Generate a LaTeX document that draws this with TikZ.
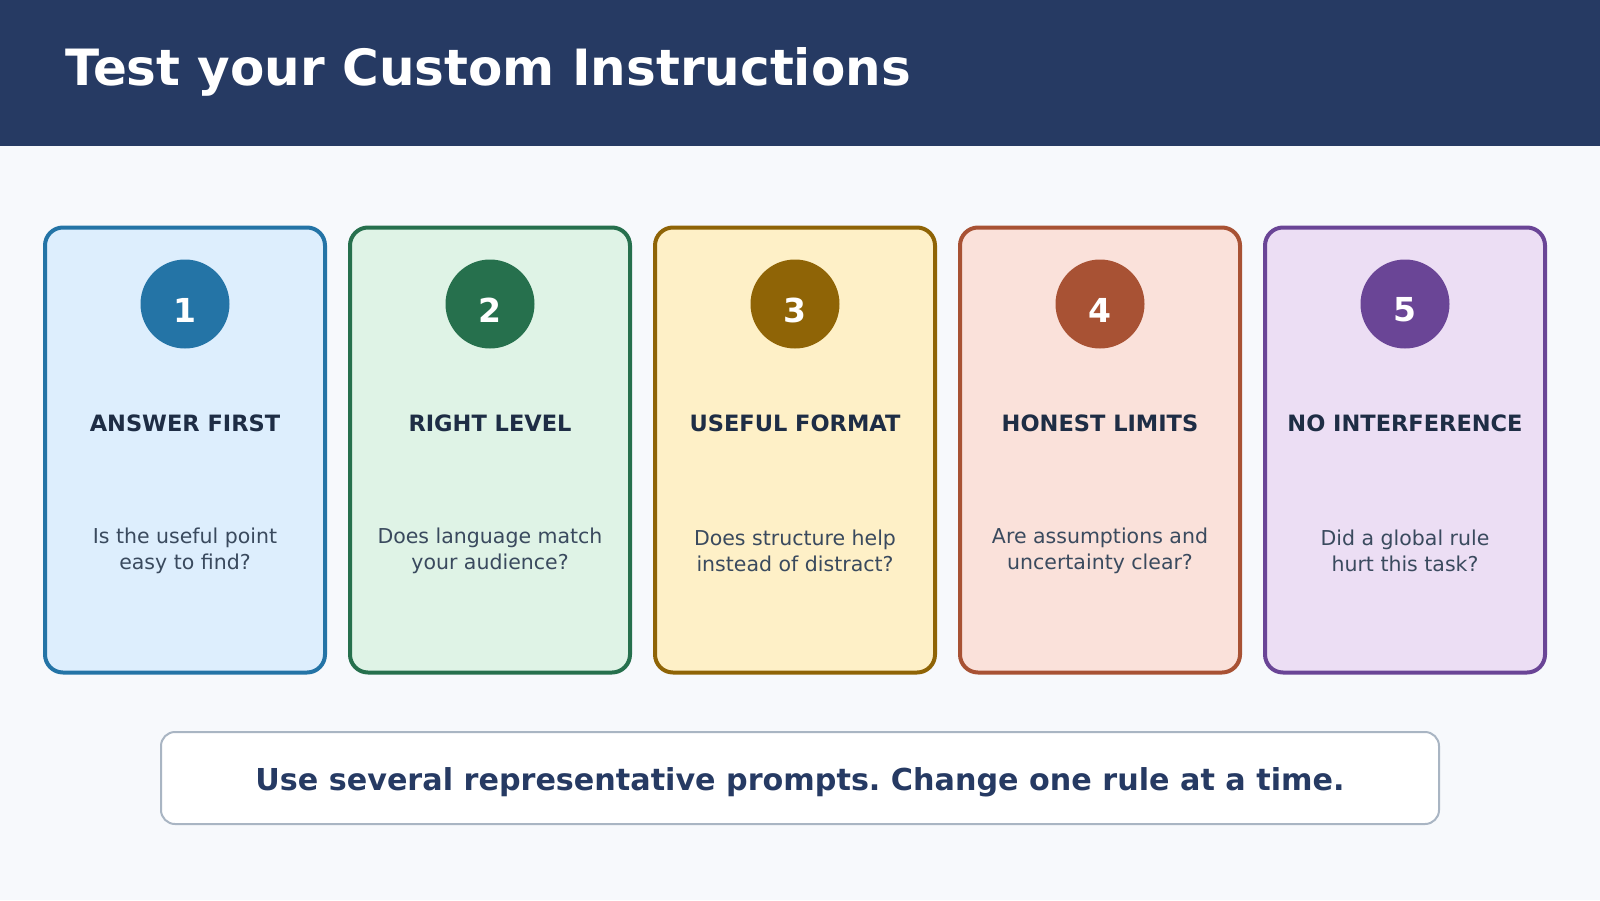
\documentclass[tikz,border=0pt]{standalone}
\usepackage{fontspec}
\setmainfont{DejaVu Sans}
\frenchspacing
\definecolor{hdr}{HTML}{263A63}
\definecolor{bg}{HTML}{F7F9FC}
\definecolor{tdark}{HTML}{1E2D45}
\definecolor{tdesc}{HTML}{3A4A5E}
\definecolor{bbord}{HTML}{A9B5C3}
\definecolor{sa}{HTML}{2474A6}\definecolor{fa}{HTML}{DDEEFD}
\definecolor{sb}{HTML}{26704D}\definecolor{fb}{HTML}{DFF3E6}
\definecolor{sc}{HTML}{8F6406}\definecolor{fc}{HTML}{FEF0C7}
\definecolor{sd}{HTML}{A85234}\definecolor{fd}{HTML}{FAE1DA}
\definecolor{se}{HTML}{6A4596}\definecolor{fe}{HTML}{ECDEF4}
\tikzset{
 card/.style={draw=#1,line width=4pt,rounded corners=18pt,minimum width=280pt,minimum height=445pt,inner sep=0pt},
 num/.style={circle,fill=#1,minimum size=89pt,inner sep=0pt},
 numtxt/.style={text=white,font=\fontsize{33}{33}\selectfont\bfseries},
 ctitle/.style={text=tdark,font=\fontsize{22.5}{22.5}\selectfont\bfseries},
 cdesc/.style={text=tdesc,font=\fontsize{20.5}{26}\selectfont,align=center},
}
\begin{document}
\begin{tikzpicture}[x=1pt,y=-1pt]
\useasboundingbox (0,0) rectangle (1600,900);
\fill[bg] (0,0) rectangle (1600,900);
\fill[hdr] (0,0) rectangle (1600,146);
\node[anchor=west,text=white,font=\fontsize{50}{50}\selectfont\bfseries] (title) at (62,72) {Test your Custom Instructions};
\foreach \i/\s/\f/\t/\d in {0/sa/fa/ANSWER FIRST/{Is the useful point\\easy to find?},
 1/sb/fb/RIGHT LEVEL/{Does language match\\your audience?},
 2/sc/fc/USEFUL FORMAT/{Does structure help\\instead of distract?},
 3/sd/fd/HONEST LIMITS/{Are assumptions and\\uncertainty clear?},
 4/se/fe/NO INTERFERENCE/{Did a global rule\\hurt this task?}}{
 \pgfmathsetmacro\cx{185+305*\i}
 \node[card=\s,fill=\f] (card\i) at (\cx,450) {};
 \node[num=\s] (num\i) at (\cx,304) {};
 \node[numtxt] (nt\i) at (\cx,310) {\pgfmathparse{int(\i+1)}\pgfmathresult};
 \node[ctitle] (ct\i) at (\cx,423) {\t};
 \node[cdesc] (cd\i) at (\cx,551) {\d};
}
\node[draw=bbord,line width=2pt,fill=white,rounded corners=14pt,minimum width=1278pt,minimum height=92pt] (foot) at (800,778) {};
\node[text=hdr,font=\fontsize{30.2}{30.2}\selectfont\bfseries] (foottxt) at (800,782) {Use several representative prompts. Change one rule at a time.};
\end{tikzpicture}
\end{document}
